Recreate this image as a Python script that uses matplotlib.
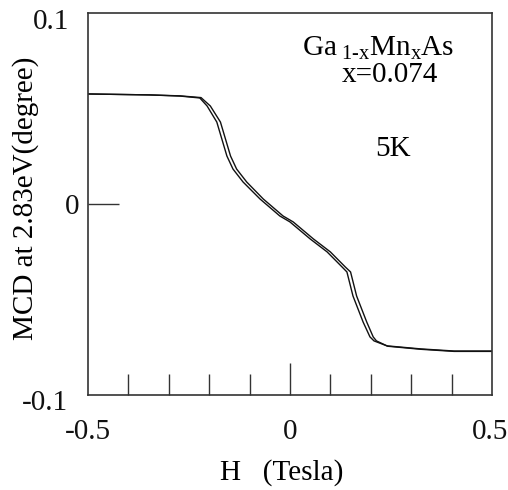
import matplotlib
matplotlib.use("Agg")
import matplotlib.pyplot as plt
import matplotlib.transforms as mtransforms

plt.rcParams['font.family'] = ['Liberation Serif', 'DejaVu Serif']
plt.rcParams['mathtext.fontset'] = 'custom'
plt.rcParams['mathtext.rm'] = 'Liberation Serif'
plt.rcParams['mathtext.it'] = 'Liberation Serif'

# branch 1 (field sweep, left line)
h_down = [-0.5, -0.347, -0.272, -0.223, -0.205, -0.181, -0.156, -0.141, -0.116,
          -0.074, -0.025, 0.0, 0.050, 0.092, 0.129, 0.141, 0.156, 0.181, 0.198,
          0.208, 0.240, 0.324, 0.406, 0.5]
mcd_down = [0.0576, 0.0571, 0.0565, 0.0555, 0.0513, 0.0429, 0.0251, 0.0183, 0.0115,
            0.0026, -0.0063, -0.0094, -0.0183, -0.0251, -0.0330, -0.0356, -0.0482,
            -0.0618, -0.0696, -0.0717, -0.0743, -0.0759, -0.0770, -0.0770]

# branch 2 (right line)
h_up = [-0.5, -0.347, -0.272, -0.220, -0.197, -0.172, -0.147, -0.132, -0.107,
        -0.066, -0.017, 0.008, 0.058, 0.100, 0.137, 0.150, 0.165, 0.190, 0.206,
        0.214, 0.242, 0.324, 0.406, 0.5]
mcd_up = [0.0576, 0.0571, 0.0566, 0.0557, 0.0513, 0.0429, 0.0251, 0.0183, 0.0115,
          0.0026, -0.0063, -0.0094, -0.0183, -0.0251, -0.0330, -0.0356, -0.0482,
          -0.0618, -0.0696, -0.0717, -0.0745, -0.0761, -0.0772, -0.0772]

xtick_vals = [-0.5, 0, 0.5]
xtick_labels = ['-0.5', '0', '0.5']
ytick_vals = [-0.1, 0, 0.1]
ytick_labels = ['-0.1', '0', '0.1']

fig = plt.figure(figsize=(5.08, 4.90), dpi=100)
ax = fig.add_axes([0.173, 0.194, 0.7955, 0.7795])

ax.plot(h_down, mcd_down, color='#111111', lw=1.0)
ax.plot(h_up, mcd_up, color='#111111', lw=1.0)

ax.set_xlim(-0.5, 0.5)
ax.set_ylim(-0.1, 0.1)

for s in ax.spines.values():
    s.set_color('#333333')
    s.set_linewidth(1.2)

ax.set_xticks(xtick_vals)
ax.set_xticklabels(xtick_labels)
ax.set_xticks([-0.4, -0.3, -0.2, -0.1, 0.1, 0.2, 0.3, 0.4], minor=True)
ax.set_yticks(ytick_vals)
ax.set_yticklabels(ytick_labels)

ax.tick_params(axis='x', which='major', direction='in', length=23, width=1,
               pad=17, labelsize=21, colors='#333333', labelcolor='#111111')
ax.tick_params(axis='x', which='minor', direction='in', length=15, width=1,
               colors='#333333')
ax.tick_params(axis='y', which='major', direction='in', length=22, width=1,
               pad=6, labelsize=21, colors='#333333', labelcolor='#111111')
ax.tick_params(top=False, right=False)

# only the zero ticks are drawn as marks (ends coincide with the frame)
for val, tk in zip(ytick_vals, ax.yaxis.get_major_ticks()):
    if val != 0:
        tk.tick1line.set_visible(False)
for val, tk in zip(xtick_vals, ax.xaxis.get_major_ticks()):
    if val != 0:
        tk.tick1line.set_visible(False)

# nudge some tick labels like in the original figure (pixels)
def nudge(label, dx, dy):
    off = mtransforms.ScaledTranslation(dx / 100, dy / 100, fig.dpi_scale_trans)
    label.set_transform(label.get_transform() + off)

ylabs = ax.get_yticklabels()
nudge(ylabs[0], -12, -5)
nudge(ylabs[2], -10, -6)
nudge(ax.get_xticklabels()[2], -2, 0)

ax.set_xlabel('H   (Tesla)', fontsize=21)
ax.xaxis.set_label_coords(0.48, -0.168)
ax.set_ylabel('MCD at 2.83eV(degree)', fontsize=21)
ax.yaxis.set_label_coords(-0.121, 0.515)

ax.text(0.718, 0.908, r'Ga$_{\rm\ 1\text{-}x}$Mn$_{\rm x}$As', transform=ax.transAxes,
        fontsize=21, ha='center', va='center')
ax.text(0.748, 0.838, 'x=0.074', transform=ax.transAxes, fontsize=21,
        ha='center', va='center')
ax.text(0.755, 0.645, '5K', transform=ax.transAxes, fontsize=21,
        ha='center', va='center')

fig.savefig('out.png', dpi=100)
